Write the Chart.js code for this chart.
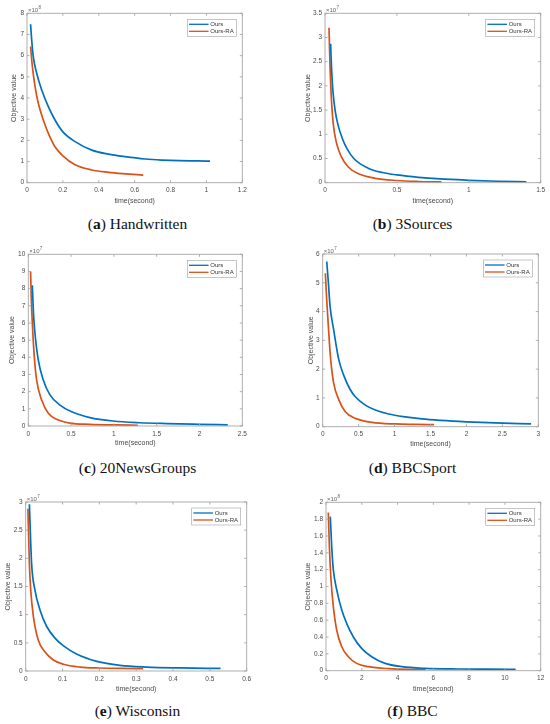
<!DOCTYPE html>
<html>
<head>
<meta charset="utf-8">
<script src="https://cdn.jsdelivr.net/npm/chart.js@4.4.1/dist/chart.umd.min.js"></script>
<style>
  html, body { margin: 0; padding: 0; background: #fff; }
  #fig { position: relative; width: 550px; height: 724px; overflow: hidden; }
  #fig canvas { position: absolute; }
  .cap { position: absolute; width: 275px; text-align: center; font: 15.5px "Liberation Serif", serif; color: #111; line-height: 18px; }
</style>
</head>
<body>
<div id="fig"></div>
<script>
// values (y in units of the axis multiplier)
// (a) Handwritten, x10^8
const hwOursT = [0.020, 0.026, 0.035, 0.054, 0.082, 0.119, 0.156, 0.200, 0.268, 0.361, 0.454, 0.547, 0.659, 0.75, 0.85, 0.95, 1.02];
const hwOursV = [7.48, 6.75, 5.95, 5.17, 4.38, 3.59, 2.96, 2.40, 1.94, 1.54, 1.35, 1.23, 1.12, 1.07, 1.04, 1.03, 1.02];
const hwRaT = [0.020, 0.030, 0.045, 0.063, 0.091, 0.119, 0.156, 0.200, 0.268, 0.361, 0.454, 0.547, 0.648];
const hwRaV = [6.43, 5.48, 4.54, 3.75, 2.96, 2.33, 1.70, 1.27, 0.85, 0.60, 0.49, 0.42, 0.36];

// (b) 3Sources, x10^7
const srcOursT = [0.039, 0.045, 0.055, 0.07, 0.09, 0.12, 0.15, 0.2, 0.3, 0.4, 0.5, 0.65, 0.8, 1.0, 1.2, 1.4];
const srcOursV = [2.87, 2.4, 1.9, 1.5, 1.2, 0.92, 0.72, 0.5, 0.3, 0.21, 0.16, 0.11, 0.077, 0.05, 0.03, 0.02];
const srcRaT = [0.028, 0.035, 0.045, 0.058, 0.08, 0.11, 0.16, 0.23, 0.35, 0.5, 0.65, 0.81];
const srcRaV = [3.2, 2.4, 1.7, 1.2, 0.82, 0.56, 0.33, 0.19, 0.09, 0.045, 0.025, 0.015];

// (c) 20NewsGroups, x10^7
const ngOursT = [0.047, 0.06, 0.078, 0.117, 0.175, 0.253, 0.37, 0.506, 0.72, 0.99, 1.30, 1.62, 2.0, 2.33];
const ngOursV = [8.2, 6.6, 5.4, 3.84, 2.68, 1.81, 1.22, 0.83, 0.49, 0.29, 0.19, 0.14, 0.10, 0.07];
const ngRaT = [0.027, 0.035, 0.047, 0.07, 0.097, 0.156, 0.234, 0.33, 0.487, 0.72, 1.03, 1.28];
const ngRaV = [9.0, 7.4, 5.98, 4.04, 2.68, 1.51, 0.74, 0.39, 0.17, 0.10, 0.06, 0.04];

// (d) BBCSport, x10^7
const bsOursT = [0.056, 0.079, 0.102, 0.153, 0.222, 0.29, 0.38, 0.454, 0.593, 0.732, 0.918, 1.15, 1.38, 1.64, 2.0, 2.4, 2.9];
const bsOursV = [5.74, 5.0, 4.2, 3.36, 2.35, 1.8, 1.3, 1.04, 0.75, 0.58, 0.44, 0.34, 0.27, 0.22, 0.17, 0.13, 0.10];
const bsRaT = [0.037, 0.056, 0.079, 0.107, 0.15, 0.222, 0.315, 0.454, 0.686, 1.01, 1.3, 1.55];
const bsRaV = [5.33, 4.4, 3.48, 2.45, 1.55, 0.95, 0.52, 0.29, 0.15, 0.095, 0.08, 0.07];

// (e) Wisconsin, x10^7
const wiOursT = [0.010, 0.016, 0.025, 0.039, 0.057, 0.080, 0.102, 0.138, 0.193, 0.256, 0.329, 0.419, 0.529];
const wiOursV = [2.96, 1.91, 1.44, 1.08, 0.79, 0.58, 0.45, 0.30, 0.17, 0.10, 0.07, 0.055, 0.045];
const wiRaT = [0.006, 0.010, 0.0136, 0.021, 0.034, 0.052, 0.075, 0.102, 0.147, 0.20, 0.26, 0.319];
const wiRaV = [2.88, 1.91, 1.44, 0.96, 0.55, 0.34, 0.195, 0.12, 0.07, 0.053, 0.045, 0.041];

// (f) BBC, x10^8
const bbcOursT = [0.24, 0.32, 0.41, 0.60, 0.88, 1.16, 1.53, 1.99, 2.55, 3.30, 4.23, 5.53, 7.40, 9.0, 10.6];
const bbcOursV = [1.83, 1.47, 1.20, 0.96, 0.72, 0.56, 0.40, 0.265, 0.166, 0.087, 0.048, 0.028, 0.02, 0.018, 0.017];
const bbcRaT = [0.13, 0.19, 0.28, 0.41, 0.60, 0.88, 1.25, 1.71, 2.37, 3.48, 4.60, 5.57];
const bbcRaV = [1.88, 1.47, 1.08, 0.76, 0.48, 0.285, 0.166, 0.087, 0.048, 0.024, 0.016, 0.016];

const seriesNames = ["Ours", "Ours-RA"];
const seriesColors = ["#0072BD", "#D95319"];

const panels = [
  { tag: "a", name: "Handwritten",  exp: 8, xMax: 1.2, xStep: 0.2, yMax: 8,   yStep: 1,   ours: [hwOursT, hwOursV],   ra: [hwRaT, hwRaV] },
  { tag: "b", name: "3Sources",     exp: 7, xMax: 1.5, xStep: 0.5, yMax: 3.5, yStep: 0.5, ours: [srcOursT, srcOursV], ra: [srcRaT, srcRaV] },
  { tag: "c", name: "20NewsGroups", exp: 7, xMax: 2.5, xStep: 0.5, yMax: 10,  yStep: 1,   ours: [ngOursT, ngOursV],   ra: [ngRaT, ngRaV] },
  { tag: "d", name: "BBCSport",     exp: 7, xMax: 3,   xStep: 0.5, yMax: 6,   yStep: 1,   ours: [bsOursT, bsOursV],   ra: [bsRaT, bsRaV] },
  { tag: "e", name: "Wisconsin",    exp: 7, xMax: 0.6, xStep: 0.1, yMax: 3,   yStep: 0.5, ours: [wiOursT, wiOursV],   ra: [wiRaT, wiRaV] },
  { tag: "f", name: "BBC",          exp: 8, xMax: 12,  xStep: 2,   yMax: 2,   yStep: 0.2, ours: [bbcOursT, bbcOursV], ra: [bbcRaT, bbcRaV] }
];

// where each plot sits on the page: plot box, axis title centres, caption line
const boxes = [
  { col: 0, l: 27,    t: 13.3,  r: 242.3, b: 182.7, xt: 201,   yt: 14.3,  cy: 224 },
  { col: 1, l: 325,   t: 13.3,  r: 540.7, b: 182.7, xt: 201,   yt: 308.3, cy: 224 },
  { col: 0, l: 28.3,  t: 254.3, r: 242.3, b: 426,   xt: 442.7, yt: 12.3,  cy: 468 },
  { col: 1, l: 322.7, t: 254,   r: 538.3, b: 426.7, xt: 443.3, yt: 310.7, cy: 468 },
  { col: 0, l: 25.7,  t: 502,   r: 246.7, b: 671,   xt: 688.3, yt: 7.7,   cy: 711 },
  { col: 1, l: 326,   t: 502.3, r: 540.7, b: 670.7, xt: 688.3, yt: 308.3, cy: 711 }
];

const FONT = "'Liberation Sans', Arial, sans-serif";
const TXT = "#4a4a4a";

// MATLAB-ish box: frame, inward ticks on all sides, x10^n label, legend inside
const matlabBox = {
  id: "matlabBox",
  afterDatasetsDraw(chart, args, opts) {
    const { ctx, chartArea: a, scales: { x, y } } = chart;
    ctx.save();
    ctx.strokeStyle = "#a6a6a6";
    ctx.lineWidth = 0.9;
    ctx.strokeRect(a.left, a.top, a.right - a.left, a.bottom - a.top);
    const tl = 2.5;
    ctx.beginPath();
    x.ticks.forEach(t => {
      const px = x.getPixelForValue(t.value);
      ctx.moveTo(px, a.bottom); ctx.lineTo(px, a.bottom - tl);
      ctx.moveTo(px, a.top); ctx.lineTo(px, a.top + tl);
    });
    y.ticks.forEach(t => {
      const py = y.getPixelForValue(t.value);
      ctx.moveTo(a.left, py); ctx.lineTo(a.left + tl, py);
      ctx.moveTo(a.right, py); ctx.lineTo(a.right - tl, py);
    });
    ctx.stroke();

    // exponent
    ctx.fillStyle = "#666";
    ctx.textBaseline = "alphabetic";
    ctx.textAlign = "left";
    ctx.font = "6px " + FONT;
    ctx.fillText("\u00d710", a.left + 1, a.top - 1.5);
    const w = ctx.measureText("\u00d710").width;
    ctx.font = "4.5px " + FONT;
    ctx.fillText(String(opts.exp), a.left + 1.3 + w, a.top - 4.3);

    // legend
    const bw = 49, bh = 17;
    const bx = a.right - 6 - bw, by = a.top + 6;
    ctx.fillStyle = "#fff";
    ctx.fillRect(bx, by, bw, bh);
    ctx.strokeStyle = "#a0a0a0";
    ctx.lineWidth = 0.6;
    ctx.strokeRect(bx, by, bw, bh);
    ctx.font = "6px " + FONT;
    ctx.textBaseline = "middle";
    chart.data.datasets.forEach((ds, i) => {
      const yy = by + 5 + i * 7;
      ctx.strokeStyle = ds.borderColor;
      ctx.lineWidth = 1.3;
      ctx.beginPath();
      ctx.moveTo(bx + 1.7, yy); ctx.lineTo(bx + 21.3, yy);
      ctx.stroke();
      ctx.fillStyle = "#333";
      ctx.fillText(ds.label, bx + 23, yy);
    });
    ctx.restore();
  }
};

const fig = document.getElementById("fig");
const tickText = v => String(+Number(v).toFixed(6));

panels.forEach((p, i) => {
  const b = boxes[i];
  const cl = b.col * 275;
  const ct = Math.round(b.t - 13);
  const ch = Math.round(b.xt + 8.2 - ct);
  const xH = ch - (b.b - ct);
  const yW = b.l - cl;

  const cv = document.createElement("canvas");
  cv.width = 275; cv.height = ch;
  cv.style.left = cl + "px"; cv.style.top = ct + "px";
  cv.style.width = "275px"; cv.style.height = ch + "px";
  fig.appendChild(cv);

  const cap = document.createElement("div");
  cap.className = "cap";
  cap.style.left = cl + "px";
  cap.style.top = (b.cy - 9) + "px";
  cap.innerHTML = "(<b>" + p.tag + "</b>) " + p.name;
  fig.appendChild(cap);

  const toPts = (ts, vs) => ts.map((t, k) => ({ x: t, y: vs[k] }));
  const series = [p.ours, p.ra];

  new Chart(cv, {
    type: "line",
    data: {
      datasets: series.map((s, k) => ({
        label: seriesNames[k],
        data: toPts(s[0], s[1]),
        borderColor: seriesColors[k],
        borderWidth: 1.7,
        pointRadius: 0,
        cubicInterpolationMode: "monotone",
        fill: false
      }))
    },
    options: {
      responsive: false,
      animation: false,
      layout: { padding: { left: 0, top: b.t - ct, right: cl + 275 - b.r, bottom: 0 } },
      plugins: { legend: { display: false }, tooltip: { enabled: false }, matlabBox: { exp: p.exp } },
      scales: {
        x: {
          type: "linear", min: 0, max: p.xMax,
          ticks: { stepSize: p.xStep, font: { family: FONT, size: 6.5 }, color: TXT, padding: 4, maxRotation: 0, autoSkip: false, callback: tickText },
          grid: { display: false, drawTicks: false }, border: { display: false },
          title: { display: true, text: "time(second)", font: { family: FONT, size: 7 }, color: TXT, padding: { top: 0, bottom: 4 } },
          afterFit: s => { s.height = xH; }
        },
        y: {
          type: "linear", min: 0, max: p.yMax,
          ticks: { stepSize: p.yStep, font: { family: FONT, size: 6.5 }, color: TXT, padding: 3, autoSkip: false, callback: tickText },
          grid: { display: false, drawTicks: false }, border: { display: false },
          title: { display: true, text: "Objective value", font: { family: FONT, size: 7 }, color: TXT, padding: { top: b.yt - cl - 4.2, bottom: 0 } },
          afterFit: s => { s.width = yW; }
        }
      }
    },
    plugins: [matlabBox]
  });
});
</script>
</body>
</html>
